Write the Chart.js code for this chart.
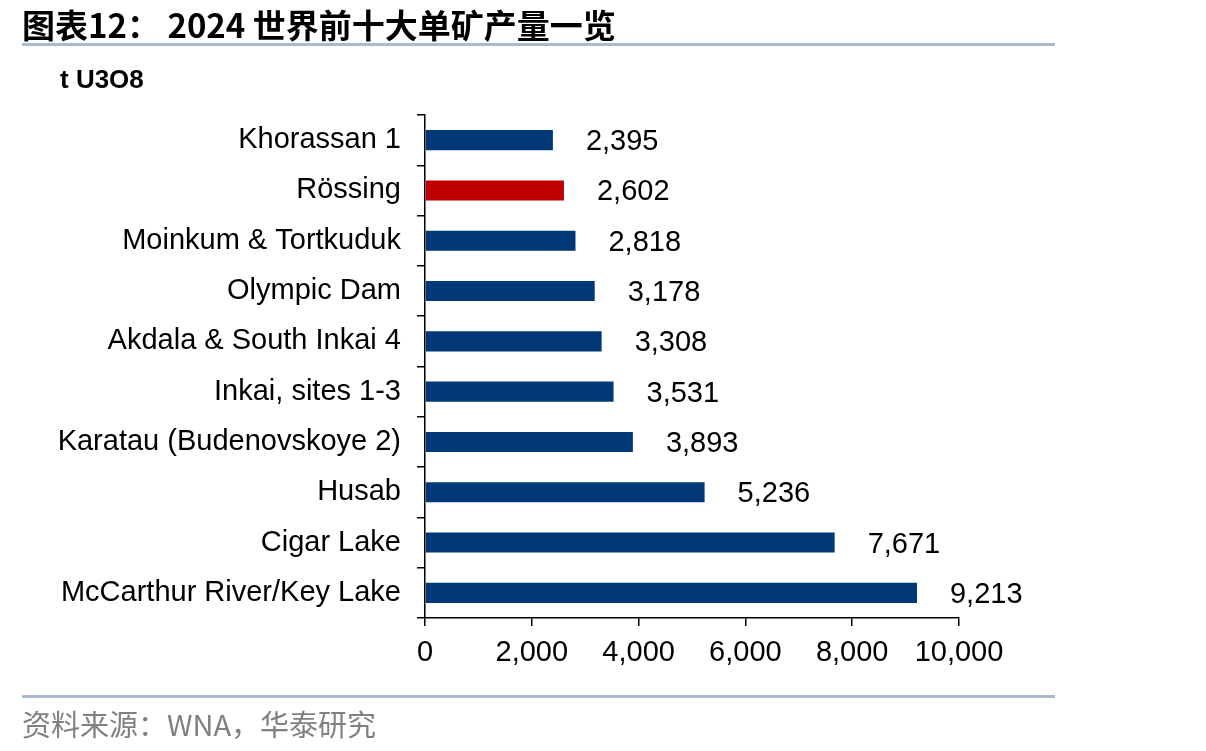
<!DOCTYPE html>
<html>
<head>
<meta charset="utf-8">
<script src="https://cdn.jsdelivr.net/npm/chart.js@4.4.1/dist/chart.umd.min.js"></script>
<style>
  html, body { margin: 0; padding: 0; background: #fff; }
  #wrap { position: relative; width: 1206px; height: 751px; overflow: hidden; }
  #chart { position: absolute; left: 0; top: 0; }
  .title { position: absolute; left: 22px; top: 0px; font: bold 33px "Noto Sans CJK SC", "Liberation Sans", sans-serif; color: #000; white-space: nowrap; }
  .rule { position: absolute; left: 22px; width: 1033px; height: 3px; background: #a9bace; }
  .unit { position: absolute; left: 60px; top: 64px; font: bold 26px "Liberation Sans", Arial, sans-serif; color: #000; }
  .source { position: absolute; left: 22px; top: 702px; font: 29px "Noto Sans CJK SC", sans-serif; color: #808080; white-space: nowrap; }
</style>
</head>
<body>
<div id="wrap">
  <canvas id="chart" width="1206" height="751"></canvas>
  <div class="title">图表12： 2024 世界前十大单矿产量一览</div>
  <div class="rule" style="top:43px"></div>
  <div class="unit">t U3O8</div>
  <div class="rule" style="top:695px"></div>
  <div class="source">资料来源：WNA，华泰研究</div>
</div>
<script>
// ── 2024 世界前十大单矿产量 (t U3O8) ─────────

const mines = [
  'Khorassan 1', 'Rössing', 'Moinkum & Tortkuduk', 'Olympic Dam',
  'Akdala & South Inkai 4', 'Inkai, sites 1-3', 'Karatau (Budenovskoye 2)',
  'Husab', 'Cigar Lake', 'McCarthur River/Key Lake'
];
const output = [2395, 2602, 2818, 3178, 3308, 3531, 3893, 5236, 7671, 9213];
const xTicks = [0, 2000, 4000, 6000, 8000, 10000];

const NAVY = '#003878';
const RED = '#c00000';
const barColors = mines.map(m => m === 'Rössing' ? RED : NAVY);

const fmt = v => v.toLocaleString('en-US');
const FONT = '"Liberation Sans", Arial, sans-serif';

// value labels to the right of each bar
const valueLabels = {
  id: 'value-labels',
  afterDatasetsDraw(chart) {
    const c = chart.ctx;
    const meta = chart.getDatasetMeta(0);
    c.save();
    c.fillStyle = '#000';
    c.font = '29px ' + FONT;
    c.textAlign = 'left';
    c.textBaseline = 'middle';
    meta.data.forEach((bar, i) => {
      c.fillText(fmt(output[i]), bar.x + 33, bar.y + 2);
    });
    c.restore();
  }
};

new Chart(document.getElementById('chart'), {
  type: 'bar',
  data: {
    labels: mines,
    datasets: [{
      data: output,
      backgroundColor: barColors,
      borderWidth: 0,
      categoryPercentage: 1,
      barPercentage: 0.4
    }]
  },
  options: {
    indexAxis: 'y',
    responsive: false,
    animation: false,
    layout: { padding: { top: 115, right: 247, bottom: 72, left: 0 } },
    plugins: { legend: { display: false }, tooltip: { enabled: false } },
    scales: {
      x: {
        min: 0, max: 10000,
        afterBuildTicks: axis => { axis.ticks = xTicks.map(v => ({ value: v })); },
        afterFit: axis => { axis.height = 61; },
        grid: { drawOnChartArea: false, drawTicks: true, tickLength: 8, color: '#000', lineWidth: 1.5 },
        border: { display: true, color: '#000', width: 1.5 },
        ticks: { color: '#000', font: { size: 29, family: FONT }, padding: 10, callback: v => fmt(v), maxRotation: 0 }
      },
      y: {
        afterFit: axis => { axis.width = 425; },
        grid: { drawOnChartArea: false, drawTicks: true, tickLength: 8, color: '#000', lineWidth: 1.5, offset: true },
        border: { display: true, color: '#000', width: 1.5 },
        ticks: { color: '#000', font: { size: 29, family: FONT }, padding: 16 }
      }
    }
  },
  plugins: [valueLabels]
});
</script>
</body>
</html>
